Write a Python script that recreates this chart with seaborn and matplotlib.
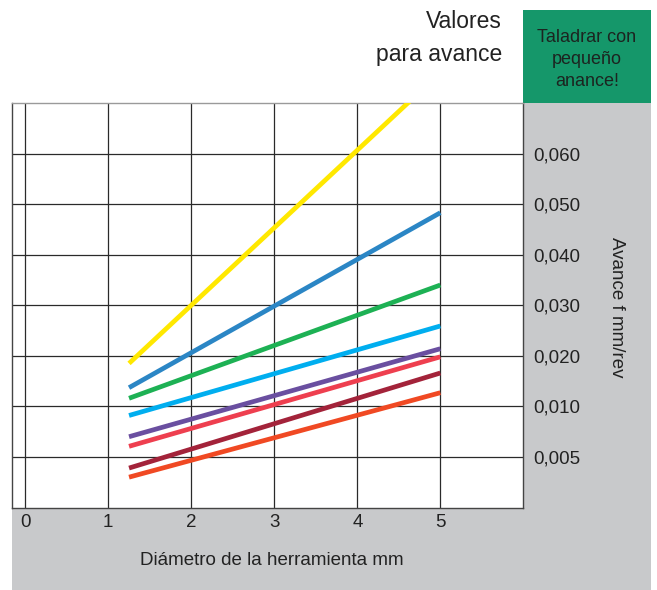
import numpy as np
import pandas as pd
import matplotlib
matplotlib.use("Agg")
import matplotlib.pyplot as plt
import seaborn as sns
from matplotlib.patches import Rectangle

# ---------------- data ----------------
diametro = [1.25, 5.0]                      # tool diameter (mm), start / end of each line
series = ["s1", "s2", "s3", "s4", "s5", "s6", "s7", "s8"]
avance_inicio = [0.0185, 0.0137, 0.0116, 0.0091, 0.0070, 0.00605, 0.0039, 0.0030]
avance_fin    = [0.0760, 0.0483, 0.0340, 0.0259, 0.0214, 0.0198, 0.0166, 0.0127]
colores = ["#FFE800", "#2B86C5", "#1DB154", "#00AEEF", "#6A4FA0", "#EE3F4F", "#A3233A", "#F04923"]

xticks = [0, 1, 2, 3, 4, 5]
ytick_vals = [0.005, 0.010, 0.020, 0.030, 0.040, 0.050, 0.060]
ytick_labels = ["0,005", "0,010", "0,020", "0,030", "0,040", "0,050", "0,060"]
# non-uniform axis: equally spaced grid steps
escala_vals = [0.0, 0.005, 0.010, 0.020, 0.030, 0.040, 0.050, 0.060, 0.070, 0.080, 0.090]
escala_pos = list(range(len(escala_vals)))

titulo = ["Valores", "para avance"]
caja = ["Taladrar con", "pequeño", "anance!"]
xlabel = "Diámetro de la herramienta mm"
ylabel = "Avance f mm/rev"

rows = []
for s, a0, a1 in zip(series, avance_inicio, avance_fin):
    rows.append({"serie": s, "diametro": diametro[0], "avance": a0})
    rows.append({"serie": s, "diametro": diametro[1], "avance": a1})
df = pd.DataFrame(rows)

# ---------------- style ----------------
sns.set_style("white")
plt.rcParams["font.family"] = ["Liberation Sans", "DejaVu Sans"]
TXT = "#222222"
GRAY = "#C8C9CB"
GREEN = "#15976A"

W, H = 657, 590
fig = plt.figure(figsize=(W / 100, H / 100), dpi=100)

def fx(px):
    return px / W

def fy(py):
    return 1 - py / H

# background panels
fig.add_artist(Rectangle((fx(12), fy(590)), fx(651) - fx(12), fy(507.5) - fy(590),
                         transform=fig.transFigure, color=GRAY, zorder=-2, lw=0))
fig.add_artist(Rectangle((fx(522.5), fy(590)), fx(651) - fx(522.5), fy(103) - fy(590),
                         transform=fig.transFigure, color=GRAY, zorder=-2, lw=0))
fig.add_artist(Rectangle((fx(523), fy(103)), fx(651) - fx(523), fy(10) - fy(103),
                         transform=fig.transFigure, color=GREEN, zorder=-2, lw=0))

ax = fig.add_axes([fx(11.5), fy(507.5), fx(522.5) - fx(11.5), fy(103) - fy(507.5)])
ax.set_facecolor("white")

def fwd(v):
    return np.interp(v, escala_vals, escala_pos)

def inv(p):
    return np.interp(p, escala_pos, escala_vals)

ax.set_yscale("function", functions=(fwd, inv))

sns.lineplot(data=df, x="diametro", y="avance", hue="serie", hue_order=series,
             palette=dict(zip(series, colores)), legend=False, estimator=None,
             sort=False, linewidth=3.4, solid_capstyle="butt", ax=ax, zorder=3)

ax.set_xlim(-0.166, 5.99)
ax.set_ylim(0.0, 0.070)

ax.set_xticks(xticks)
ax.set_xticklabels([str(t) for t in xticks])
ax.set_yticks(ytick_vals)
ax.set_yticklabels(ytick_labels)
ax.yaxis.tick_right()
ax.tick_params(axis="y", length=0, pad=7.5, labelsize=13.5, labelcolor=TXT)
ax.tick_params(axis="x", length=0, pad=5, labelsize=13.5, labelcolor=TXT)
ax.set_xlabel("")
ax.set_ylabel("")

ax.grid(True, color="#2a2a2a", linewidth=0.9)
ax.set_axisbelow(True)
for side, sp in ax.spines.items():
    sp.set_visible(True)
    sp.set_color("#444444")
    sp.set_linewidth(1.0)
ax.spines["top"].set_color("#9a9a9a")

# texts
fig.text(fx(502), fy(28.5), titulo[0], ha="right", va="baseline", fontsize=16.5, color=TXT)
fig.text(fx(502), fy(61.5), titulo[1], ha="right", va="baseline", fontsize=16.5, color=TXT)
for line, by in zip(caja, [42.3, 64, 86]):
    fig.text(fx(587), fy(by), line, ha="center", va="baseline", fontsize=13, color="#1c2420")
fig.text(fx(272), fy(565), xlabel, ha="center", va="baseline", fontsize=13.5, color=TXT)
fig.text(fx(617), fy(307), ylabel, ha="center", va="center", rotation=270,
         fontsize=13.5, color=TXT)

fig.savefig("out.png", dpi=100)
